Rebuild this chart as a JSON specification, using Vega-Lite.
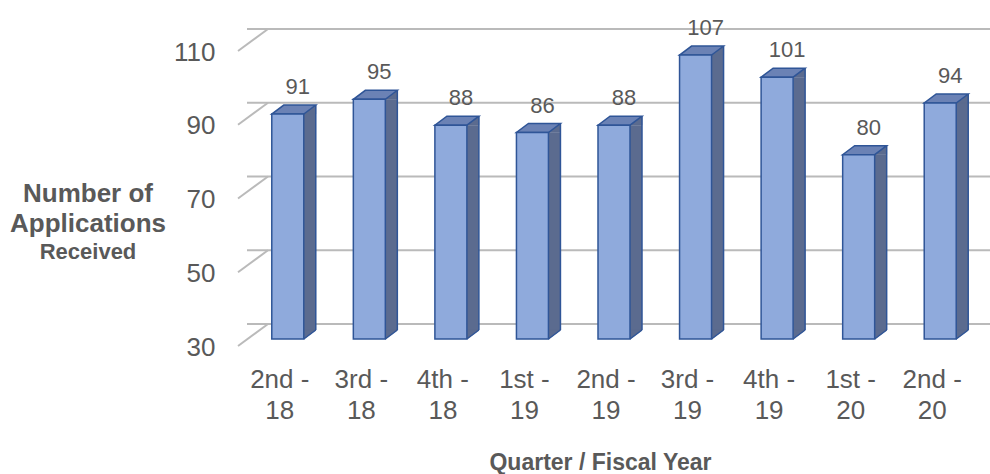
{
  "$schema": "https://vega.github.io/schema/vega-lite/v6.json",
  "width": 734,
  "height": 295,
  "autosize": {"type": "none"},
  "padding": {"left": 247, "top": 44, "right": 9, "bottom": 135},
  "background": "white",
  "config": {"view": {"stroke": null}, "font": "Liberation Sans"},
  "title": {
    "text": ["Number of", "Applications"],
    "subtitle": "Received",
    "anchor": "start",
    "align": "center",
    "frame": "group",
    "dx": -159,
    "dy": 246,
    "offset": 0,
    "font": "Liberation Sans",
    "fontSize": 26,
    "fontWeight": "bold",
    "color": "#595959",
    "lineHeight": 30,
    "subtitleFont": "Liberation Sans",
    "subtitleFontSize": 22,
    "subtitleFontWeight": "bold",
    "subtitleColor": "#595959",
    "subtitlePadding": 5
  },
  "datasets": {
    "apps": [
      {"quarter": "2nd - 18", "applications": 91},
      {"quarter": "3rd - 18", "applications": 95},
      {"quarter": "4th - 18", "applications": 88},
      {"quarter": "1st - 19", "applications": 86},
      {"quarter": "2nd - 19", "applications": 88},
      {"quarter": "3rd - 19", "applications": 107},
      {"quarter": "4th - 19", "applications": 101},
      {"quarter": "1st - 20", "applications": 80},
      {"quarter": "2nd - 20", "applications": 94}
    ],
    "ticks": [{"v": 30}, {"v": 50}, {"v": 70}, {"v": 90}, {"v": 110}]
  },
  "layer": [
    {
      "data": {"name": "ticks"},
      "mark": {"type": "rule", "color": "#bababa", "strokeWidth": 2, "xOffset": 21, "x2Offset": 21, "yOffset": -15},
      "encoding": {
        "y": {
          "field": "v",
          "type": "quantitative",
          "scale": {"domain": [30, 110], "nice": false, "zero": false},
          "axis": {
            "values": [30, 50, 70, 90, 110],
            "grid": false,
            "domain": false,
            "ticks": false,
            "tickSize": 0,
            "labelFontSize": 26,
            "labelColor": "#595959",
            "labelFont": "Liberation Sans",
            "labelPadding": 32,
            "labelOffset": 8,
            "labelFlush": false,
            "labelAlign": "right",
            "labelBaseline": "middle",
            "title": null
          }
        }
      }
    },
    {
      "data": {"name": "ticks"},
      "mark": {"type": "rule", "color": "#bababa", "strokeWidth": 2, "xOffset": -9, "x2Offset": 21, "yOffset": 7, "y2Offset": -15},
      "encoding": {
        "x": {"datum": "2nd - 18", "type": "nominal", "bandPosition": 0},
        "x2": {"datum": "2nd - 18", "bandPosition": 0},
        "y": {"field": "v", "type": "quantitative"},
        "y2": {"field": "v"}
      }
    },
    {
      "data": {"name": "apps"},
      "layer": [
        {
          "mark": {"type": "bar", "width": 12, "xOffset": 22, "y2Offset": -9, "color": "#5b6b8f"},
          "encoding": {
            "y": {"field": "applications", "type": "quantitative"},
            "y2": {"datum": 30}
          }
        },
        {
          "mark": {"type": "point", "shape": "M16,0L28,-9L28,0Z", "size": 4, "filled": true, "fill": "#5b6b8f", "stroke": "#5b6b8f", "strokeWidth": 0.5, "opacity": 1},
          "encoding": {
            "y": {"field": "applications", "type": "quantitative"}
          }
        },
        {
          "mark": {"type": "point", "shape": "M16,-9L16,0L28,-9Z", "size": 4, "filled": true, "fill": "#5b6b8f", "stroke": "#5b6b8f", "strokeWidth": 0.5, "opacity": 1},
          "encoding": {
            "y": {"datum": 30, "type": "quantitative"}
          }
        },
        {
          "mark": {"type": "rule", "color": "#2f5597", "strokeWidth": 1.5, "xOffset": 28, "yOffset": -9, "y2Offset": -9},
          "encoding": {
            "y": {"field": "applications", "type": "quantitative"},
            "y2": {"datum": 30}
          }
        },
        {
          "mark": {"type": "point", "shape": "M16,0L28,-9", "size": 4, "filled": false, "fillOpacity": 0, "stroke": "#2f5597", "strokeWidth": 1.5, "opacity": 1},
          "encoding": {
            "y": {"datum": 30, "type": "quantitative"}
          }
        },
        {
          "mark": {"type": "point", "shape": "M-16,0L16,0L28,-9L-4,-9Z", "size": 4, "filled": true, "fill": "#6b82b5", "stroke": "#2f5597", "strokeWidth": 1.5, "opacity": 1},
          "encoding": {
            "y": {"field": "applications", "type": "quantitative"}
          }
        },
        {
          "mark": {"type": "bar", "width": 32, "fill": "#8faadc", "stroke": "#2f5597", "strokeWidth": 1.5},
          "encoding": {
            "y": {"field": "applications", "type": "quantitative"},
            "y2": {"datum": 30}
          }
        },
        {
          "mark": {"type": "text", "dx": 10, "dy": -20, "baseline": "alphabetic", "fontSize": 22, "color": "#595959", "font": "Liberation Sans"},
          "encoding": {
            "y": {"field": "applications", "type": "quantitative"},
            "text": {"field": "applications", "type": "quantitative"}
          }
        }
      ],
      "encoding": {
        "x": {
          "field": "quarter",
          "type": "nominal",
          "sort": null,
          "scale": {"paddingInner": 0, "paddingOuter": 0},
          "axis": {
            "labelExpr": "[split(datum.label, ' - ')[0] + ' -', split(datum.label, ' - ')[1]]",
            "labelAngle": 0,
            "labelAlign": "center",
            "labelFontSize": 26,
            "labelFont": "Liberation Sans",
            "labelColor": "#595959",
            "labelLineHeight": 31,
            "labelBaseline": "alphabetic",
            "labelPadding": 48,
            "labelOffset": -8,
            "labelFlush": false,
            "ticks": false,
            "tickSize": 0,
            "domain": false,
            "grid": false,
            "title": "Quarter / Fiscal Year",
            "titleFont": "Liberation Sans",
            "titleFontSize": 23,
            "titleFontWeight": "bold",
            "titleColor": "#595959",
            "titleX": 353,
            "titleY": 130,
            "titleBaseline": "alphabetic",
            "titleAlign": "center"
          }
        }
      }
    }
  ]
}
